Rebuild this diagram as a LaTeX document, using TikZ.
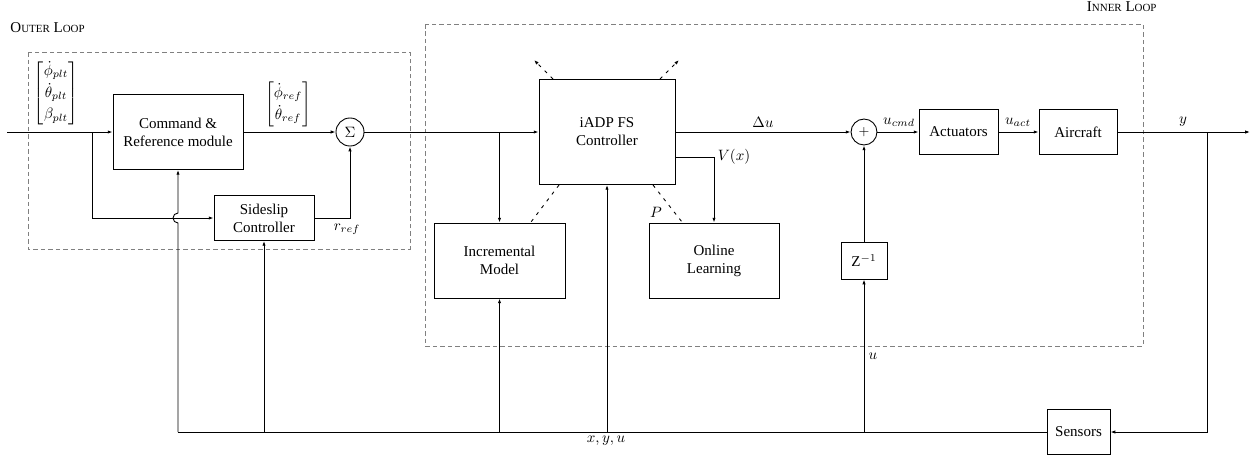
\documentclass[tikz,border=0pt]{standalone}
\usepackage{fontspec}
\setmainfont{Liberation Serif}
\usetikzlibrary{arrows.meta}
\newcommand{\fsc}[1]{{\fontsize{7.3}{9}\selectfont #1}}
\renewcommand{\arraystretch}{1.2}
\begin{document}
\begin{tikzpicture}[x=0.667pt,y=-0.667pt,
  line width=0.6pt,
  blk/.style={draw,rectangle,inner sep=0pt,align=center,font=\fontsize{10}{12}\selectfont},
  summer/.style={draw,circle,inner sep=0pt},
  arr/.style={-{Latex[length=3.2pt,width=2.2pt]}},
  loopbox/.style={draw=black!50,dash pattern=on 3pt off 2pt,line width=0.6pt},
  dsh/.style={dash pattern=on 2.2pt off 3.5pt},
  lbl/.style={inner sep=0pt,font=\fontsize{10}{12}\selectfont}]
\useasboundingbox (0,0) rectangle (1252,458);

% loop frames
\draw[loopbox] (28,52) rectangle (410,249);
\draw[loopbox] (425,24) rectangle (1143,346);
\node[lbl,anchor=west] (outerlbl) at (10,28) {O\fsc{UTER} L\fsc{OOP}};
\node[lbl,anchor=east] (innerlbl) at (1157,7) {I\fsc{NNER} L\fsc{OOP}};

% blocks
\node[blk,minimum width=86.7pt,minimum height=50pt] (cmd) at (178,132) {Command \&\\Reference module};
\node[blk,minimum width=66.7pt,minimum height=30pt] (side) at (264,218) {Sideslip\\Controller};
\node[summer,minimum size=18.7pt] (sum) at (350,132) {$\Sigma$};
\node[blk,minimum width=90.7pt,minimum height=70pt] (iadp) at (607,132) {iADP FS\\Controller};
\node[blk,minimum width=87.4pt,minimum height=50pt] (incr) at (499.5,260.5) {Incremental\\Model};
\node[blk,minimum width=86.7pt,minimum height=50pt] (online) at (714,260.5) {Online\\Learning};
\node[summer,minimum size=17.3pt,font=\fontsize{9}{10}\selectfont] (plus) at (864,132) {$+$};
\node[blk,minimum width=52.7pt,minimum height=30pt] (act) at (958.5,132) {Actuators};
\node[blk,minimum width=52pt,minimum height=30pt] (air) at (1078,132) {Aircraft};
\node[blk,minimum width=30.7pt,minimum height=24.7pt] (zinv) at (864,260.5) {Z$^{-1}$};
\node[blk,minimum width=42pt,minimum height=30pt] (sens) at (1078.5,432) {Sensors};

% coordinates
\coordinate (in) at (7,132);
\coordinate (b1) at (92,132);
\coordinate (b1d) at (92,218);
\coordinate (rc) at (350,218);
\coordinate (b2) at (499.5,132);
\coordinate (vx) at (714,157);
\coordinate (vxs) at (675,157);
\coordinate (out) at (1250,132);
\coordinate (b3) at (1207,132);
\coordinate (b3d) at (1207,432);
\coordinate (fl) at (178,432);
\coordinate (fs) at (264,432);
\coordinate (fi) at (499.5,432);
\coordinate (fa) at (607,432);
\coordinate (fz) at (864,432);
\coordinate (jb) at (178,223);
\coordinate (t1) at (553,79);
\coordinate (t1e) at (534,60);
\coordinate (t2) at (660,79);
\coordinate (t2e) at (679,60);
\coordinate (d1) at (559,185);
\coordinate (d1e) at (531,222);
\coordinate (d2) at (653,185);
\coordinate (d2e) at (682,222);

% signal labels
\node[lbl] (vin) at (56,93) {$\left[\begin{array}{@{}c@{}}\dot\phi_{plt}\\ \dot\theta_{plt}\\ \beta_{plt}\end{array}\right]$};
\node[lbl] (vref) at (288,104) {$\left[\begin{array}{@{}c@{}}\dot\phi_{ref}\\ \dot\theta_{ref}\end{array}\right]$};
\node[lbl] (rref) at (347,229) {$r_{ref}$};
\node[lbl] (du) at (763,122) {$\Delta u$};
\node[lbl] (vxl) at (734,157) {$V(x)$};
\node[lbl] (pl) at (656,212) {$P$};
\node[lbl] (ucmd) at (899,122) {$u_{cmd}$};
\node[lbl] (uact) at (1018,122) {$u_{act}$};
\node[lbl] (yl) at (1183,122) {$y$};
\node[lbl] (ul) at (873,356) {$u$};
\node[lbl] (xyu) at (606,441) {$x,y,u$};

% connectors
\draw[arr] (in) -- (cmd.west);
\draw[arr] (b1) -- (b1d) -- (side.west);
\draw[arr] (cmd.east) -- (sum.west);
\draw[arr] (side.east) -- (rc) -- (sum.south);
\draw[arr] (sum.east) -- (iadp.west);
\draw[arr] (b2) -- (incr.north);
\draw[arr] (iadp.east) -- (plus.west);
\draw[arr] (vxs) -- (vx) -- (online.north);
\draw[arr] (plus.east) -- (act.west);
\draw[arr] (act.east) -- (air.west);
\draw[arr] (air.east) -- (out);
\draw[arr] (b3) -- (b3d) -- (sens.east);
\draw (sens.west) -- (fl);
\draw[arr] (fl) -- (jb) arc[start angle=90,end angle=270,radius=5] -- (cmd.south);
\draw[arr] (fs) -- (side.south);
\draw[arr] (fi) -- (incr.south);
\draw[arr] (fa) -- (iadp.south);
\draw[arr] (fz) -- (zinv.south);
\draw[arr] (zinv.north) -- (plus.south);
\draw[arr,dsh] (t1) -- (t1e);
\draw[arr,dsh] (t2) -- (t2e);
\draw[dsh] (d1) -- (d1e);
\draw[dsh] (d2) -- (d2e);
\end{tikzpicture}
\end{document}
